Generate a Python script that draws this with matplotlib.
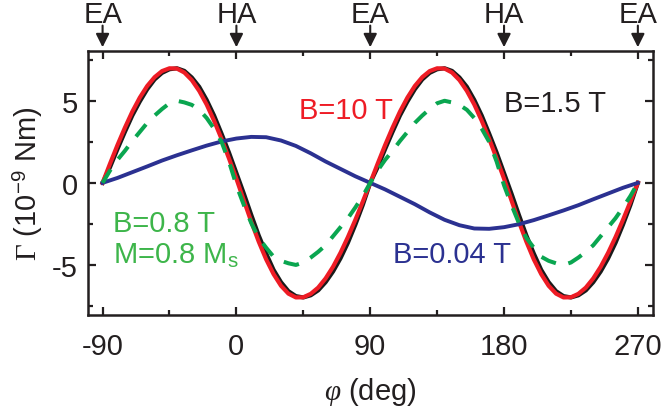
import numpy as np
import matplotlib
matplotlib.use('Agg')
import matplotlib.pyplot as plt
from matplotlib.ticker import MultipleLocator

plt.rcParams['font.family'] = ['Liberation Sans', 'DejaVu Sans']
plt.rcParams['mathtext.fontset'] = 'custom'
plt.rcParams['mathtext.rm'] = 'Liberation Serif'
plt.rcParams['mathtext.it'] = 'Liberation Serif:italic'
plt.rcParams['mathtext.sf'] = 'Liberation Sans'

# angle grids (deg)
phi_fine = list(range(-90, 271, 5))
phi_coarse = list(range(-90, 271, 10))

# B = 1.5 T (black)
gamma_15T = [0, 0.95, 2.05, 3.1, 4.1, 4.95, 5.7, 6.3, 6.7, 6.92, 6.98, 6.82, 6.42, 5.85,
             5.05, 4.1, 3.0, 1.85, 0.6, -0.65, -1.95, -3.2, -4.3, -5.3, -6.05, -6.6, -6.9,
             -6.98, -6.85, -6.55, -6.05, -5.4, -4.6, -3.65, -2.55, -1.35,
             0, 0.95, 2.05, 3.1, 4.1, 4.95, 5.7, 6.3, 6.7, 6.92, 6.98, 6.82, 6.42, 5.85,
             5.05, 4.1, 3.0, 1.85, 0.6, -0.65, -1.95, -3.2, -4.3, -5.3, -6.05, -6.6, -6.9,
             -6.98, -6.85, -6.55, -6.05, -5.4, -4.6, -3.65, -2.55, -1.35, 0]

# B = 10 T (red)
gamma_10T = [0, 1.17, 2.30, 3.36, 4.34, 5.19, 5.90, 6.44, 6.81, 6.98, 6.96, 6.72, 6.26, 5.60,
             4.77, 3.78, 2.68, 1.49, 0.25, -1.07, -2.37, -3.58, -4.66, -5.56, -6.27, -6.75,
             -6.98, -6.97, -6.76, -6.38, -5.82, -5.11, -4.26, -3.30, -2.25, -1.14,
             0, 1.17, 2.30, 3.36, 4.34, 5.19, 5.90, 6.44, 6.81, 6.98, 6.96, 6.72, 6.26, 5.60,
             4.77, 3.78, 2.68, 1.49, 0.25, -1.07, -2.37, -3.58, -4.66, -5.56, -6.27, -6.75,
             -6.98, -6.97, -6.76, -6.38, -5.82, -5.11, -4.26, -3.30, -2.25, -1.14, 0]

# B = 0.8 T, M = 0.8 Ms (green dashed)
gamma_08T = [0, 0.75, 1.4, 1.95, 2.55, 3.1, 3.65, 4.1, 4.5, 4.85, 5.0, 4.9, 4.75, 4.45, 3.95,
             3.3, 2.5, 1.3, -0.15, -1.35, -2.45, -3.35, -3.95, -4.5, -4.75, -4.9, -5.0,
             -4.85, -4.55, -4.2, -3.8, -3.25, -2.7, -2.15, -1.5, -0.8,
             0, 0.75, 1.4, 1.95, 2.55, 3.1, 3.65, 4.1, 4.5, 4.85, 5.0, 4.9, 4.75, 4.45, 3.95,
             3.3, 2.5, 1.3, -0.15, -1.35, -2.45, -3.35, -3.95, -4.5, -4.75, -4.9, -5.0,
             -4.85, -4.55, -4.2, -3.8, -3.25, -2.7, -2.15, -1.5, -0.8, 0]

# B = 0.04 T (blue), 10 deg steps
gamma_004T = [0, 0.3, 0.65, 1.0, 1.36, 1.68, 1.98, 2.27, 2.52, 2.7, 2.8, 2.78, 2.58, 2.25,
              1.8, 1.3, 0.85, 0.4, 0, -0.4, -0.85, -1.3, -1.8, -2.25, -2.58, -2.78, -2.8,
              -2.7, -2.52, -2.27, -1.98, -1.68, -1.36, -1.0, -0.65, -0.3, 0]

xticks = [-90, 0, 90, 180, 270]
xtick_labels = ['-90', '0', '90', '180', '270']
yticks = [-5, 0, 5]
ytick_labels = ['-5', '0', '5']
axis_marks = ['EA', 'HA', 'EA', 'HA', 'EA']

FS = 21
INK = '#231f20'

fig = plt.figure(figsize=(6.62, 4.14), dpi=100)
ax = fig.add_axes([0.1325, 0.2367, 0.8535, 0.6384])

ax.plot(phi_fine, gamma_15T, color='#1a1a1a', lw=3.0, zorder=2)
ax.plot(phi_fine, gamma_10T, color='#ee1c25', lw=3.0, zorder=3)
ax.plot(phi_coarse, gamma_004T, color='#2b3191', lw=2.8, zorder=4)
ax.plot(phi_fine, gamma_08T, color='#0aa650', lw=2.9, dashes=(3.9, 3.2), zorder=5)

ax.set_xlim(-100, 280)
ax.set_ylim(-8.05, 8.05)
ax.set_xticks(xticks)
ax.set_xticklabels(xtick_labels)
ax.set_yticks(yticks)
ax.set_yticklabels(ytick_labels)
ax.xaxis.set_minor_locator(MultipleLocator(45))
ax.yaxis.set_minor_locator(MultipleLocator(2.5))
ax.tick_params(which='both', direction='in', top=True, right=True, width=1.6,
               labelsize=FS, colors=INK)
ax.tick_params(which='major', length=6)
ax.tick_params(which='minor', length=3.6)
ax.tick_params(axis='x', pad=12)
ax.tick_params(axis='y', pad=7)
for s in ax.spines.values():
    s.set_linewidth(1.8)
    s.set_color(INK)

ax.set_xlabel(r'$\varphi$ (deg)', fontsize=FS, labelpad=11, color=INK)
ax.set_ylabel(r'$\Gamma$ (10$^{\mathsf{-9}}$ Nm)', fontsize=FS, labelpad=5, color=INK)

for xp, lab in zip(xticks, axis_marks):
    ax.annotate('', xy=(xp, 1.013), xytext=(xp, 1.095),
                xycoords=('data', 'axes fraction'), textcoords=('data', 'axes fraction'),
                arrowprops=dict(arrowstyle='-|>', color=INK, lw=1.5,
                                mutation_scale=20, shrinkA=0, shrinkB=0),
                annotation_clip=False)
    ax.text(xp, 1.108, lab, transform=ax.get_xaxis_transform(), ha='center',
            va='baseline', fontsize=FS, color=INK)

ax.text(74, 3.95, 'B=10 T', color='#ee1c25', fontsize=FS, ha='center', va='baseline')
ax.text(214, 4.39, 'B=1.5 T', color=INK, fontsize=FS, ha='center', va='baseline')
ax.text(-83, -2.95, 'B=0.8 T', color='#3db54a', fontsize=FS, ha='left', va='baseline')
ax.text(-83, -4.85, r'M=0.8 M$_{\mathsf{s}}$', color='#3db54a', fontsize=FS, ha='left', va='baseline')
ax.text(145, -4.85, 'B=0.04 T', color='#2b3191', fontsize=FS, ha='center', va='baseline')

fig.savefig('out.png', dpi=100)
